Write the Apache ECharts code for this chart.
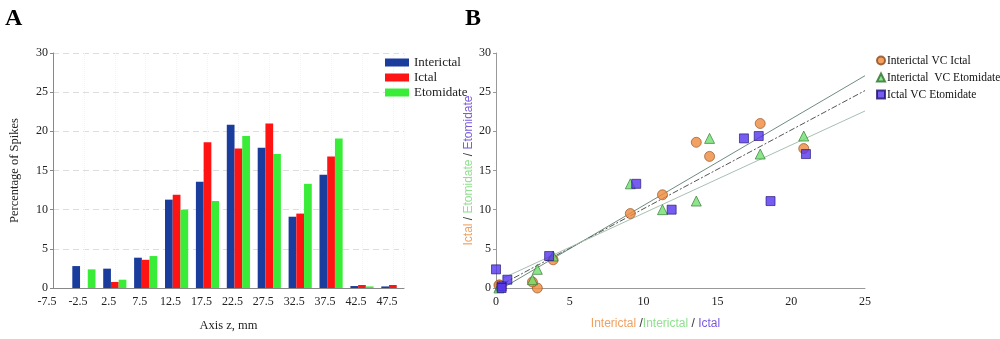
<!DOCTYPE html>
<html><head><meta charset="utf-8">
<script src="https://cdn.jsdelivr.net/npm/echarts@6/dist/echarts.min.js"></script>
<style>html,body{margin:0;padding:0;background:#fff}#c{width:1000px;height:339px}</style>
</head><body><div id="c"></div>
<script>
// Panel A: bin centres (Axis z, mm) and percentage of spikes
const bins = [-2.5, 2.5, 7.5, 12.5, 17.5, 22.5, 27.5, 32.5, 37.5, 42.5, 47.5];
const interictal = [2.8, 2.47, 3.87, 11.28, 13.57, 20.85, 17.9, 9.1, 14.47, 0.25, 0.2];
const ictal      = [0, 0.77, 3.6, 11.9, 18.6, 17.8, 21.0, 9.5, 16.8, 0.38, 0.38];
const etomidate  = [2.38, 1.06, 4.08, 10.0, 11.1, 19.4, 17.1, 13.3, 19.1, 0.2, 0];
// Panel B: fitted lines, endpoints
const lineUpper  = [[0.5, 0.05], [25, 27.1]];
const lineMiddle = [[0.5, 0.57], [25, 25.2]];
const lineLower  = [[0.5, 1.28], [25, 22.6]];

const serif = 'Liberation Serif';
const sans = 'Liberation Sans';
const pair = (a, b) => bins.map((_, i) => [a[i], b[i]]);

const chart = echarts.init(document.getElementById('c'), null, {renderer: 'canvas'});
const tickLabel = {fontFamily: serif, fontSize: 12, color: '#222'};
chart.setOption({
  animation: false,
  backgroundColor: '#fff',
  title: [
    {text: 'A', left: 0, top: 2, textStyle: {fontFamily: serif, fontSize: 24, fontWeight: 'bold', color: '#000'}},
    {text: 'B', left: 460, top: 2, textStyle: {fontFamily: serif, fontSize: 24, fontWeight: 'bold', color: '#000'}}
  ],
  legend: [
    {data: ['Interictal', 'Ictal', 'Etomidate'], orient: 'vertical', left: 380, top: 51,
     icon: 'rect', itemWidth: 24, itemHeight: 8, itemGap: 2,
     textStyle: {fontFamily: serif, fontSize: 13, color: '#222', lineHeight: 13}},
    {data: [{name: 'Interictal VC Ictal', icon: 'circle'}, {name: 'Interictal  VC Etomidate', icon: 'triangle'}, {name: 'Ictal VC Etomidate', icon: 'rect'}],
     orient: 'vertical', left: 871, top: 49, itemWidth: 8, itemHeight: 8, itemGap: 4,
     textStyle: {fontFamily: serif, fontSize: 11.5, color: '#111', lineHeight: 13, padding: [0, 0, 0, -3]}}
  ],
  grid: [
    {left: 53, top: 53, width: 351, height: 235},
    {left: 496, top: 53, width: 369, height: 235}
  ],
  xAxis: [
    {type: 'value', gridIndex: 0, min: -7.5, max: 49.3, interval: 5,
     name: 'Axis z, mm', nameLocation: 'middle', nameGap: 31,
     nameTextStyle: {fontFamily: serif, fontSize: 12.5, color: '#222'},
     axisLine: {onZero: false, lineStyle: {color: '#888'}}, axisTick: {show: false},
     axisLabel: Object.assign({}, tickLabel, {showMaxLabel: false, padding: [0, 12, 0, 0], formatter: v => v.toFixed(1)}),
     splitLine: {show: true, lineStyle: {color: '#f3f3f3', type: 'dotted'}}},
    {type: 'value', gridIndex: 1, min: 0, max: 25, interval: 5,
     name: '{o|Interictal} {k|/}{g|Interictal} {k|/} {p|Ictal}', nameLocation: 'middle', nameGap: 30,
     nameTextStyle: {padding: [0, 50, 0, 0], rich: {
       o: {fontFamily: sans, fontSize: 12, color: '#f0a060'},
       g: {fontFamily: sans, fontSize: 12, color: '#8ee08e'},
       p: {fontFamily: sans, fontSize: 12, color: '#7a5ae0'},
       k: {fontFamily: sans, fontSize: 12, color: '#333'}}},
     axisLine: {onZero: false, lineStyle: {color: '#999'}}, axisTick: {show: false},
     axisLabel: tickLabel, splitLine: {show: false}}
  ],
  yAxis: [
    {type: 'value', gridIndex: 0, min: 0, max: 30, interval: 5,
     name: 'Percentage of Spikes', nameLocation: 'middle', nameGap: 32,
     nameTextStyle: {fontFamily: serif, fontSize: 12.5, color: '#222'},
     axisLine: {show: true, onZero: false, lineStyle: {color: '#888'}}, axisTick: {show: true, length: 3, lineStyle: {color: '#888'}},
     axisLabel: Object.assign({}, tickLabel, {margin: 5}),
     splitLine: {show: true, lineStyle: {color: '#dddddd', type: [6, 4]}}},
    {type: 'value', gridIndex: 1, min: 0, max: 30, interval: 5,
     name: '{o|Ictal} {k|/} {g|Etomidate} {k|/} {p|Etomidate}', nameLocation: 'middle', nameGap: 20,
     nameTextStyle: {rich: {
       o: {fontFamily: sans, fontSize: 12, color: '#f0a060'},
       g: {fontFamily: sans, fontSize: 12, color: '#8ee08e'},
       p: {fontFamily: sans, fontSize: 12, color: '#7a5ae0'},
       k: {fontFamily: sans, fontSize: 12, color: '#333'}}},
     axisLine: {show: true, onZero: false, lineStyle: {color: '#999'}}, axisTick: {show: true, length: 3, lineStyle: {color: '#999'}},
     axisLabel: Object.assign({}, tickLabel, {margin: 5}), splitLine: {show: false}}
  ],
  series: [
    {name: 'Interictal', type: 'bar', xAxisIndex: 0, yAxisIndex: 0, data: pair(bins, interictal),
     barGap: '0%', barCategoryGap: '25%', itemStyle: {color: '#1a3c9c'}},
    {name: 'Ictal', type: 'bar', xAxisIndex: 0, yAxisIndex: 0, data: pair(bins, ictal),
     barGap: '0%', barCategoryGap: '25%', itemStyle: {color: '#ff1414'}},
    {name: 'Etomidate', type: 'bar', xAxisIndex: 0, yAxisIndex: 0, data: pair(bins, etomidate),
     barGap: '0%', barCategoryGap: '25%', itemStyle: {color: '#38ec38'}},
    {type: 'line', xAxisIndex: 1, yAxisIndex: 1, data: lineUpper, symbol: 'none', silent: true, z: 1,
     lineStyle: {color: '#6f8c7d', width: 1}},
    {type: 'line', xAxisIndex: 1, yAxisIndex: 1, data: lineMiddle, symbol: 'none', silent: true, z: 1,
     lineStyle: {color: '#555', width: 1, type: [6, 2, 2, 2]}},
    {type: 'line', xAxisIndex: 1, yAxisIndex: 1, data: lineLower, symbol: 'none', silent: true, z: 1,
     lineStyle: {color: '#a8c0b2', width: 1}},
    {name: 'Interictal VC Ictal', type: 'scatter', xAxisIndex: 1, yAxisIndex: 1, data: pair(interictal, ictal),
     symbol: 'circle', symbolSize: 10, clip: false,
     itemStyle: {color: '#ef8a3c', borderColor: '#8a4a1a', borderWidth: 0.8}},
    {name: 'Interictal  VC Etomidate', type: 'scatter', xAxisIndex: 1, yAxisIndex: 1, data: pair(interictal, etomidate),
     symbol: 'triangle', symbolSize: 10, clip: false,
     itemStyle: {color: '#6ee06e', borderColor: '#2e6e2e', borderWidth: 0.8}},
    {name: 'Ictal VC Etomidate', type: 'scatter', xAxisIndex: 1, yAxisIndex: 1, data: pair(ictal, etomidate),
     symbol: 'rect', symbolSize: 9, clip: false,
     itemStyle: {color: '#5533ee', borderColor: '#1d1070', borderWidth: 0.8}}
  ]
});
</script></body></html>
